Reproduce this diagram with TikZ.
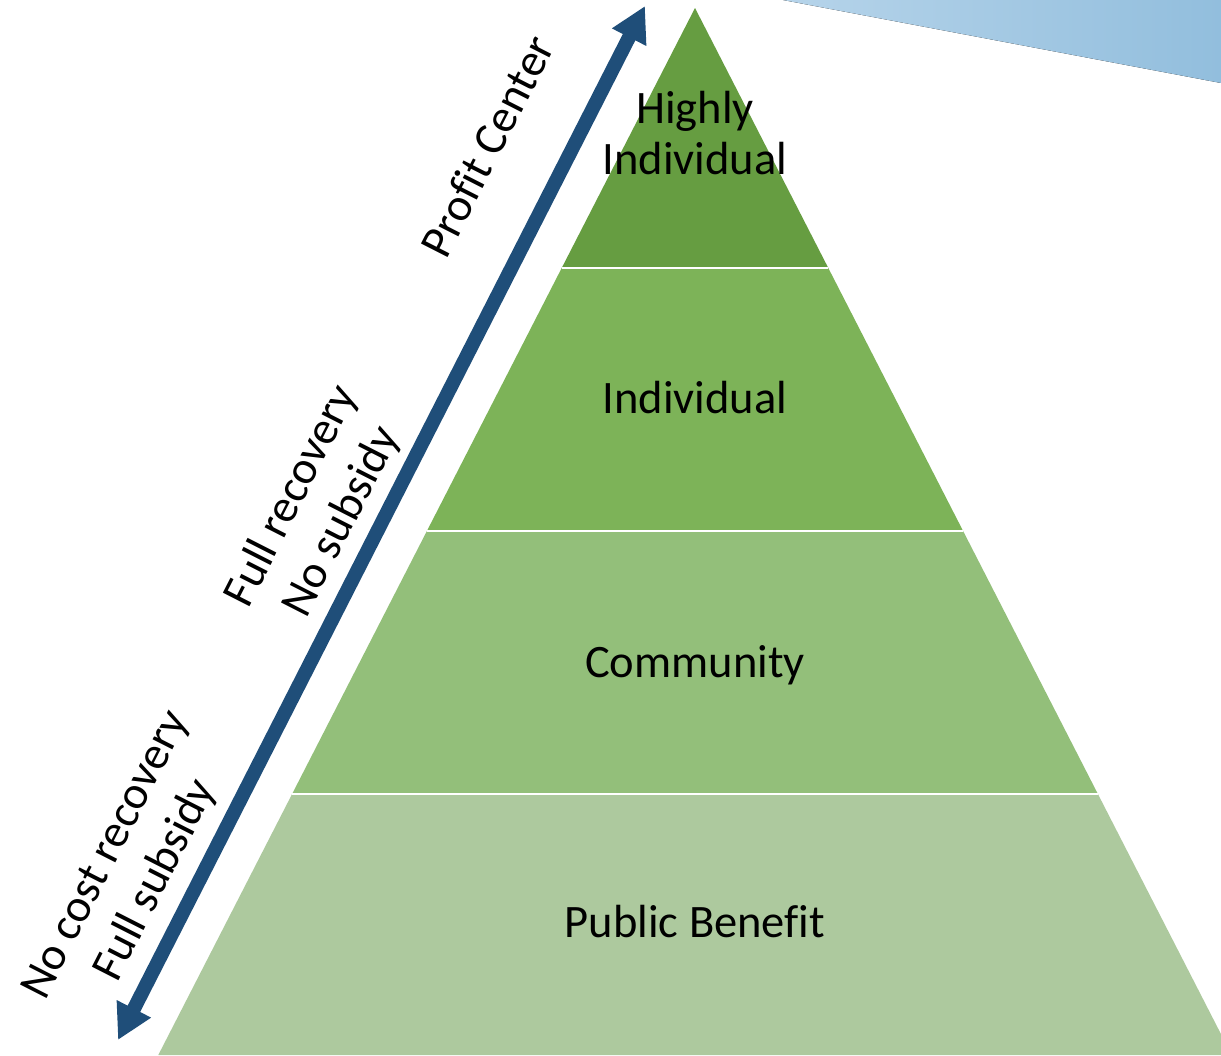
\documentclass[tikz,border=0pt]{standalone}
\usepackage{fontspec}
\setmainfont{Carlito}[Ligatures=CommonOff]
\usetikzlibrary{arrows.meta}
\definecolor{bandA}{HTML}{669D41}
\definecolor{bandB}{HTML}{7DB358}
\definecolor{bandC}{HTML}{93BF7A}
\definecolor{bandD}{HTML}{ADC99E}
\definecolor{arrowblue}{HTML}{1F4E79}
\definecolor{skyL}{RGB}{182,212,234}
\definecolor{skyR}{RGB}{146,190,221}
\tikzset{
  lbl/.style={font=\fontsize{46.5}{51}\selectfont, text=black, inner sep=0pt, align=center},
  sidelbl/.style={font=\fontsize{46.5}{56}\selectfont, text=black, inner sep=0pt, align=center, rotate=63},
  sep/.style={white, line width=2.6pt},
  bigarrow/.style={line width=14pt, draw=arrowblue,
    {Triangle[width=36pt,length=35pt]}-{Triangle[width=36pt,length=35pt]}}
}
\begin{document}
\begin{tikzpicture}[x=1pt,y=-1pt]
\useasboundingbox (0,0) rectangle (1221,1055);
\fill[white] (0,0) rectangle (1221,1055);
\clip (0,0) rectangle (1221,1055);
% sky shape
\fill[left color=skyL, right color=skyR] (783,0) -- (1221,83) -- (1221,0) -- cycle;
% pyramid bands
\fill[bandA] (695,8) -- (828.3,268) -- (561.7,268) -- cycle;
\fill[bandB] (561.7,268) -- (828.3,268) -- (963.1,531) -- (426.9,531) -- cycle;
\fill[bandC] (426.9,531) -- (963.1,531) -- (1097.9,794) -- (292.1,794) -- cycle;
\fill[bandD] (292.1,794) -- (1097.9,794) -- (1231.7,1055) -- (158.3,1055) -- cycle;
\draw[sep] (561.7,268) -- (828.3,268);
\draw[sep] (426.9,531) -- (963.1,531);
\draw[sep] (292.1,794) -- (1097.9,794);
% pyramid texts
\node[lbl, anchor=south] (hi) at (695,175) {Highly\\Individual};
\node[lbl, anchor=base] (ind) at (695,413) {Individual};
\node[lbl, anchor=base] (com) at (695,677) {Community};
\node[lbl, anchor=base] (pub) at (695,937) {Public Benefit};
% arrow
\coordinate (atop) at (645,6);
\coordinate (abot) at (118,1040);
\draw[bigarrow] (abot) -- (atop);
% side labels
\node[sidelbl] (lprofit) at (487,146) {Profit Center};
\node[sidelbl] (lfull) at (317,509) {Full recovery\\No subsidy};
\node[sidelbl] (lnocost) at (132,868) {No cost recovery\\Full subsidy};
\end{tikzpicture}
\end{document}
